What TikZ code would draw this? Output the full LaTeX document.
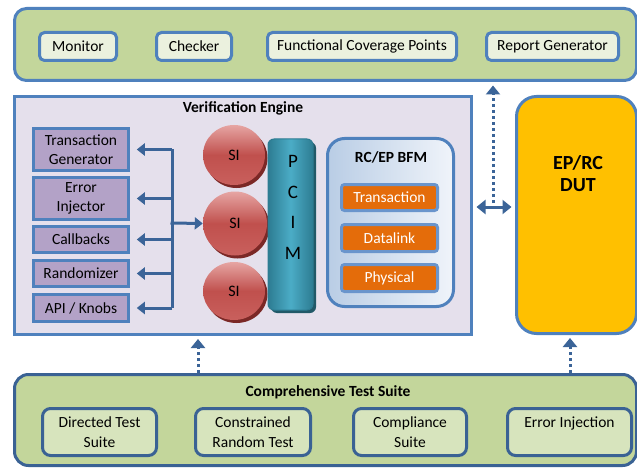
\documentclass[tikz,border=0pt]{standalone}
\usepackage{fontspec}
\setmainfont{Carlito}
\usetikzlibrary{arrows.meta,shapes.geometric}
\definecolor{bblue}{HTML}{4F81BD}
\definecolor{dblue}{HTML}{3A6294}
\definecolor{arrblue}{HTML}{3B6498}
\definecolor{lgreen}{HTML}{C3D69B}
\definecolor{pgreen}{HTML}{EBF1DE}
\definecolor{mgreen}{HTML}{D7E4BD}
\definecolor{lav}{HTML}{E5E0EC}
\definecolor{purp}{HTML}{B3A2C7}
\definecolor{sired}{HTML}{C0504D}
\definecolor{silight}{HTML}{E6A5A3}
\definecolor{sibot}{HTML}{C9605D}
\definecolor{sishadow}{HTML}{7B2826}
\definecolor{teal1}{HTML}{2D7C92}
\definecolor{teal2}{HTML}{4BACC6}
\definecolor{tealsh}{HTML}{215968}
\definecolor{bfml}{HTML}{B9CDE5}
\definecolor{bfmr}{HTML}{F0F4FA}
\definecolor{orng}{HTML}{E46C0A}
\definecolor{orbd}{HTML}{6A95CC}
\definecolor{dut}{HTML}{FFC000}
\newcommand\myfs[2]{\fontsize{#1}{#2}\selectfont}
\begin{document}
\begin{tikzpicture}[x=1pt,y=-1pt,
  txt/.style={font=\myfs{15.5}{19.5}, align=center, inner sep=0pt},
  btxt/.style={font=\bfseries\myfs{15.5}{19.5}, align=center, inner sep=0pt},
  topbox/.style={draw=bblue, line width=3pt, fill=pgreen, rounded corners=5pt, inner sep=0pt, txt},
  botbox/.style={draw=dblue, line width=3pt, fill=mgreen, rounded corners=8pt, inner sep=0pt, txt},
  leftbox/.style={draw=bblue, line width=3.5pt, fill=purp, inner sep=0pt, minimum width=95pt, txt},
  layerbox/.style={draw=orbd, line width=3pt, fill=orng, rounded corners=3pt, inner sep=0pt, minimum width=96pt, txt, text=white},
  siball/.style={ellipse, inner sep=0pt, top color=silight, bottom color=sibot, middle color=sired},
  arr/.style={draw=arrblue, line width=3pt, -{Triangle[width=12pt,length=8pt]}},
  darr/.style={draw=arrblue, line width=3pt, {Triangle[width=14pt,length=9pt]}-{Triangle[width=14pt,length=9pt]}},
  dotarr/.style={draw=arrblue, line width=3pt, dash pattern=on 3pt off 3pt, -{Triangle[width=14pt,length=9pt]}},
]
\useasboundingbox (0,0) rectangle (637,468);
\fill[white] (0,0) rectangle (637,468);

% ---- top monitoring box
\node[draw=bblue, line width=3pt, fill=lgreen, rounded corners=12pt, minimum width=622pt, minimum height=72pt, inner sep=0pt] (top) at (325.5,44.5) {};
\node[topbox, minimum width=77pt, minimum height=28pt] (mon) at (78,46.5) {Monitor};
\node[topbox, minimum width=75pt, minimum height=28pt] (chk) at (194,46.5) {Checker};
\node[topbox, minimum width=189pt, minimum height=28pt] (fcp) at (362,46.5) {Functional Coverage Points};
\node[topbox, minimum width=132pt, minimum height=28pt] (rep) at (552.5,46.5) {Report Generator};

% ---- verification engine
\node[draw=bblue, line width=3pt, fill=lav, minimum width=457pt, minimum height=238pt, inner sep=0pt] (ve) at (243,215.5) {};
\node[btxt] (vet) at (243,108) {Verification Engine};

\node[leftbox, minimum height=42pt] (tg) at (81,149.5) {Transaction\\Generator};
\node[leftbox, minimum height=42pt] (ei) at (81,198.5) {Error\\Injector};
\node[leftbox, minimum height=26pt] (cb) at (81,239.5) {Callbacks};
\node[leftbox, minimum height=26pt] (rd) at (81,273.5) {Randomizer};
\node[leftbox, minimum height=27pt] (api) at (81,308) {API / Knobs};

% SI shadows and balls
\fill[sishadow] (236.5,158) ellipse [x radius=31pt, y radius=30pt];
\fill[sishadow] (237.5,226.5) ellipse [x radius=32pt, y radius=32pt];
\fill[sishadow] (236.5,294) ellipse [x radius=31pt, y radius=29pt];
\node[siball, minimum width=62pt, minimum height=60pt] (si1) at (234,155) {\myfs{16}{18}SI};
\node[siball, minimum width=64pt, minimum height=64pt] (si2) at (235,223.5) {\myfs{16}{18}SI};
\node[siball, minimum width=62pt, minimum height=58pt] (si3) at (234,291) {\myfs{16}{18}SI};

% PCIM
\fill[tealsh, rounded corners=6pt] (271,142) rectangle (316,313);
\node[rounded corners=6pt, minimum width=45pt, minimum height=171pt, inner sep=0pt, left color=teal1, right color=teal1, middle color=teal2, draw=teal1, line width=1pt] (pcim) at (290.5,224.5) {};
\node[font=\myfs{19}{30.4}, align=center, inner sep=0pt] (pcimt) at (293,207.5) {P\\C\\I\\M};

% trunk arrows
\coordinate (tt) at (172,149.5);
\coordinate (tb) at (172,308);
\draw[draw=arrblue, line width=3pt] (tt) -- (tb);
\draw[arr, shorten >=6.5pt] (tt) -- (tg.east);
\draw[arr, shorten >=6.5pt] (172,198.5) -- (ei.east);
\draw[arr, shorten >=6.5pt] (172,239.5) -- (cb.east);
\draw[arr, shorten >=6.5pt] (172,273.5) -- (rd.east);
\draw[arr, shorten >=6.5pt] (tb) -- (api.east);
\draw[arr] (170.5,223) -- (si2.west);

% BFM
\node[draw=bblue, line width=3pt, left color=bfml, right color=bfmr, rounded corners=17pt, minimum width=126pt, minimum height=168pt, inner sep=0pt] (bfm) at (390.5,222.5) {};
\node[btxt] (bfmt) at (391,157) {RC/EP BFM};
\node[layerbox, minimum height=26pt] (tr) at (389.5,197.5) {Transaction};
\node[layerbox, minimum height=27pt] (dl) at (389.5,238) {Datalink};
\node[layerbox, minimum height=27pt] (ph) at (389.5,278) {Physical};

% DUT
\node[draw=bblue, line width=3pt, fill=dut, rounded corners=20pt, minimum width=120pt, minimum height=237pt, inner sep=0pt] (dut) at (576.5,215) {};
\node[font=\bfseries\myfs{20}{22}, align=center, inner sep=0pt] (dutt) at (578,174) {EP/RC\\DUT};

% VE <-> DUT
\coordinate (mid) at (493,207);
\draw[darr, shorten <=3.5pt, shorten >=3.5pt] (ve.east |- mid) -- (dut.west |- mid);
\draw[dotarr, shorten >=3.5pt] (493,203) -- (top.south -| mid);

% ---- bottom test suite
\node[draw=dblue, line width=3pt, fill=lgreen, rounded corners=14pt, minimum width=622pt, minimum height=91pt, inner sep=0pt] (bot) at (325.5,420) {};
\node[btxt] (bott) at (328,392) {Comprehensive Test Suite};
\node[botbox, minimum width=114pt, minimum height=47pt] (dts) at (99.5,432) {Directed Test\\Suite};
\node[botbox, minimum width=115pt, minimum height=47pt] (crt) at (253,432) {Constrained\\Random Test};
\node[botbox, minimum width=113pt, minimum height=47pt] (cs) at (410,432) {Compliance\\Suite};
\node[botbox, minimum width=124pt, minimum height=47pt] (ein) at (569.5,432) {Error Injection\\\mbox{}};

\coordinate (b1) at (198,373);
\coordinate (b2) at (570,373);
\draw[dotarr, shorten >=3pt] (b1) -- (ve.south -| b1);
\draw[dotarr, shorten >=3pt] (b2) -- (dut.south -| b2);
\end{tikzpicture}
\end{document}
